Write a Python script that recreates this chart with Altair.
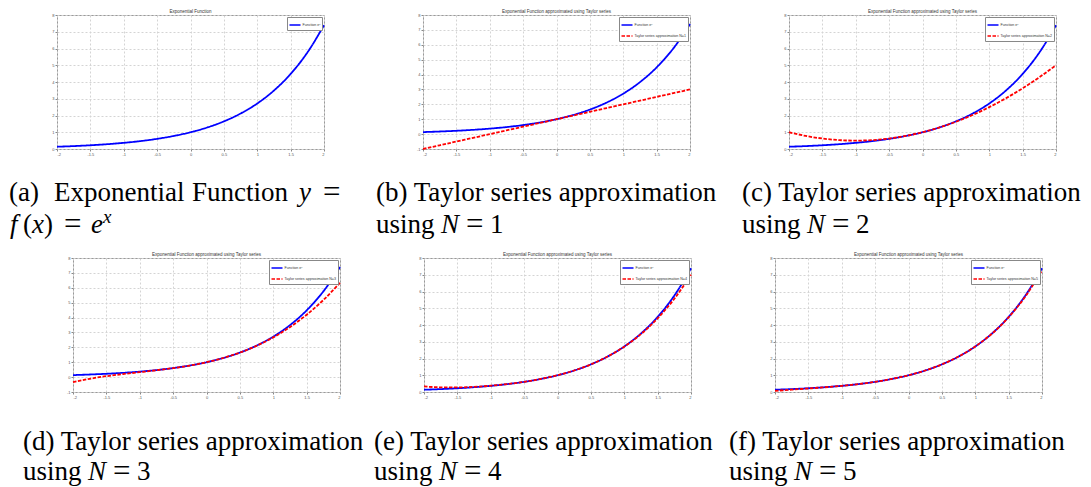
import altair as alt
import pandas as pd

# ---------------- data ----------------
x_vals = [-2.0, -1.75, -1.5, -1.25, -1.0, -0.75, -0.5, -0.25, 0.0,
          0.25, 0.5, 0.75, 1.0, 1.25, 1.5, 1.75, 2.0]
exp_vals = [0.135, 0.174, 0.223, 0.287, 0.368, 0.472, 0.607, 0.779, 1.0,
            1.284, 1.649, 2.117, 2.718, 3.490, 4.482, 5.755, 7.389]
taylor_n1 = [-1.0, -0.75, -0.5, -0.25, 0.0, 0.25, 0.5, 0.75, 1.0,
             1.25, 1.5, 1.75, 2.0, 2.25, 2.5, 2.75, 3.0]
taylor_n2 = [1.0, 0.781, 0.625, 0.531, 0.5, 0.531, 0.625, 0.781, 1.0,
             1.281, 1.625, 2.031, 2.5, 3.031, 3.625, 4.281, 5.0]
taylor_n3 = [-0.333, -0.112, 0.063, 0.206, 0.333, 0.461, 0.604, 0.779, 1.0,
             1.284, 1.646, 2.102, 2.667, 3.357, 4.188, 5.174, 6.333]
taylor_n4 = [0.333, 0.279, 0.273, 0.308, 0.375, 0.474, 0.607, 0.779, 1.0,
             1.284, 1.648, 2.115, 2.708, 3.459, 4.398, 5.565, 7.0]
taylor_n5 = [0.067, 0.142, 0.210, 0.283, 0.367, 0.472, 0.607, 0.779, 1.0,
             1.284, 1.649, 2.117, 2.717, 3.484, 4.461, 5.702, 7.267]

x_ticks = [-2, -1.5, -1, -0.5, 0, 0.5, 1, 1.5, 2]
func_label = "Function e\u02e3"
title_a = "Exponential Function"
title_t = "Exponential Function approximated using Taylor series"

# ---------------- styling ----------------
W, H = 267, 134
SERIF = "Times New Roman, Liberation Serif, DejaVu Serif, serif"
CAP = 27
EQ = 31
BLUE, RED = "#0000ff", "#ff0000"
ONE = [{"k": 1}]


def caption_text(txt, x, y, size=CAP, italic=False):
    kw = dict(text=txt, font=SERIF, fontSize=size, align="left",
              baseline="alphabetic", color="black")
    if italic:
        kw["fontStyle"] = "italic"
    return alt.Chart(alt.Data(values=ONE)).mark_text(**kw).encode(
        x=alt.value(x), y=alt.value(y))


def panel(series_y, series_label, ydom, title, captions):
    rows = [{"x": xv, "y": yv, "series": func_label} for xv, yv in zip(x_vals, exp_vals)]
    labels = [func_label]
    if series_y is not None:
        rows += [{"x": xv, "y": yv, "series": series_label} for xv, yv in zip(x_vals, series_y)]
        labels.append(series_label)
    df = pd.DataFrame(rows)
    leg = alt.Legend(title=None, orient="top-right", offset=2, padding=1.5,
                     symbolType="stroke", symbolSize=121, symbolStrokeWidth=1.5,
                     labelFontSize=3.6, labelFont="Liberation Sans", labelColor="#333",
                     labelOffset=1, rowPadding=1, strokeColor="#888888",
                     fillColor="white", cornerRadius=0, labelLimit=0)
    y_ticks = list(range(int(ydom[0]), int(ydom[1]) + 1))
    lines = alt.Chart(df).mark_line(strokeWidth=1.8, interpolate="monotone").encode(
        x=alt.X("x:Q", scale=alt.Scale(domain=[-2, 2], nice=False, zero=False),
                axis=alt.Axis(values=x_ticks, labelExpr="'' + datum.value", title=None)),
        y=alt.Y("y:Q", scale=alt.Scale(domain=ydom, nice=False, zero=False),
                axis=alt.Axis(values=y_ticks, labelExpr="'' + datum.value", title=None)),
        color=alt.Color("series:N", scale=alt.Scale(domain=labels, range=[BLUE, RED][:len(labels)]),
                        legend=leg),
        strokeDash=alt.StrokeDash("series:N", scale=alt.Scale(domain=labels, range=[[1, 0], [3.5, 1.5]][:len(labels)]),
                                  legend=leg),
    )
    ttl = alt.Chart(alt.Data(values=ONE)).mark_text(
        text=title, font="Liberation Sans", fontSize=4.5, color="#333333",
        align="center", baseline="alphabetic").encode(x=alt.value(W / 2), y=alt.value(-2))
    layers = [lines, ttl] + [caption_text(*c[:3], **c[3]) for c in captions]
    return alt.layer(*layers).properties(width=W, height=H).resolve_scale(color="shared")


def n_caption(letter, n, left, y1, y2):
    return [
        (f"({letter}) Taylor series approximation", left, y1, {}),
        ("using", left, y2, {}),
        ("N", left + 65, y2, {"italic": True}),
        ("=", left + 90, y2 + 1, {"size": EQ}),
        (str(n), left + 114, y2, {}),
    ]


R1_Y1, R1_Y2 = 186, 218
R2_Y1, R2_Y2 = 192, 222

cap_a = [
    ("(a)", -48, R1_Y1, {}),
    ("Exponential", -48 + 45, R1_Y1, {}),
    ("Function", -48 + 183, R1_Y1, {}),
    ("y", -48 + 290, R1_Y1, {"italic": True}),
    ("=", -48 + 314, R1_Y1 + 1, {"size": EQ}),
    ("f", -48 + 1, R1_Y2, {"italic": True}),
    ("(", -48 + 14, R1_Y2, {}),
    ("x", -48 + 23, R1_Y2, {"italic": True}),
    (")", -48 + 35, R1_Y2, {}),
    ("=", -48 + 55, R1_Y2 + 1, {"size": EQ}),
    ("e", -48 + 82, R1_Y2, {"italic": True}),
    ("x", -48 + 94, R1_Y2 - 10, {"italic": True, "size": 19}),
]

pa = panel(None, None, [0, 8], title_a, cap_a)
pb = panel(taylor_n1, "Taylor series approximation N=1", [-1, 8], title_t, n_caption("b", 1, -47, R1_Y1, R1_Y2))
pc = panel(taylor_n2, "Taylor series approximation N=2", [0, 8], title_t, n_caption("c", 2, -47, R1_Y1, R1_Y2))
pd_ = panel(taylor_n3, "Taylor series approximation N=3", [-1, 8], title_t, n_caption("d", 3, -50, R2_Y1, R2_Y2))
pe = panel(taylor_n4, "Taylor series approximation N=4", [0, 8], title_t, n_caption("e", 4, -50, R2_Y1, R2_Y2))
pf = panel(taylor_n5, "Taylor series approximation N=5", [0, 8], title_t, n_caption("f", 5, -46, R2_Y1, R2_Y2))

ind = dict(x="independent", y="independent", color="independent", strokeDash="independent")
legind = dict(color="independent", strokeDash="independent")

# empty 1px spacer that shifts the second row right
spacer = alt.Chart(alt.Data(values=ONE)).mark_point(opacity=0).encode(
    x=alt.value(0), y=alt.value(0)).properties(
    width=1, height=1, view=alt.ViewBackground(strokeOpacity=0))

row1 = alt.hconcat(pa, pb, pc, spacing=99, bounds="flush").resolve_scale(**ind).resolve_legend(**legind)
row2_inner = alt.hconcat(pd_, pe, pf, spacing=84, bounds="flush").resolve_scale(**ind).resolve_legend(**legind)
row2 = alt.hconcat(spacer, row2_inner, spacing=15, bounds="flush").resolve_scale(**ind).resolve_legend(**legind)

chart = alt.vconcat(row1, row2, spacing=10).resolve_scale(**ind).resolve_legend(**legind).properties(
    padding=0, background="white"
).configure_view(
    stroke="#9a9a9a", strokeWidth=1
).configure_axis(
    labelFontSize=4, labelFont="Liberation Sans", labelColor="#555555",
    tickSize=2, tickColor="#888888", domain=False, grid=True,
    gridDash=[2, 2], gridColor="#d4d4d4", labelPadding=1
)

chart.save("out.html", embed_options={"renderer": "svg", "actions": False})
